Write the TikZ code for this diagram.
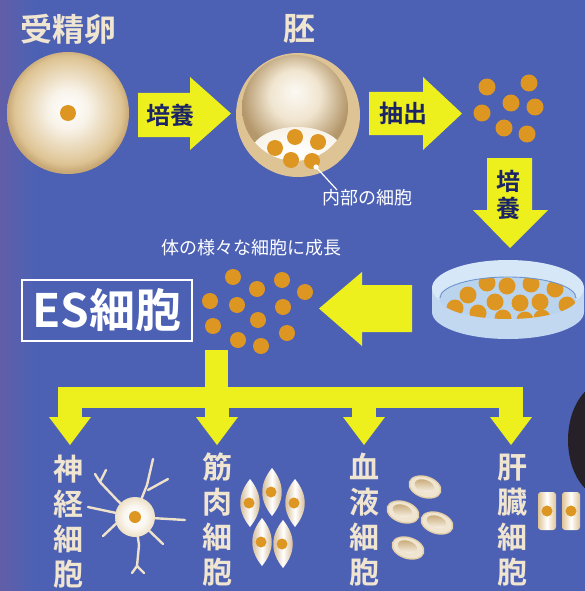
\documentclass[tikz,border=0pt]{standalone}
\usepackage{fontspec}
\setmainfont{Noto Sans CJK JP}[BoldFont={Noto Sans CJK JP Bold}]
\usetikzlibrary{positioning}

\definecolor{bgblue}{RGB}{76,97,180}
\definecolor{bgedge}{RGB}{98,94,168}
\definecolor{arrowyellow}{RGB}{238,240,30}
\definecolor{navytext}{RGB}{26,36,102}
\definecolor{nucleus}{RGB}{222,150,34}
\definecolor{cream}{RGB}{240,229,208}
\definecolor{tan}{RGB}{222,196,148}
\definecolor{tandark}{RGB}{200,168,118}
\definecolor{dishblue}{RGB}{186,212,238}
\definecolor{dishrim}{RGB}{214,232,247}
\definecolor{dishline}{RGB}{110,150,205}
\definecolor{darkthing}{RGB}{38,33,40}

\pgfdeclarehorizontalshading{backdrop}{100bp}{color(0bp)=(bgedge); color(25bp)=(bgedge); color(28bp)=(bgblue); color(100bp)=(bgblue)}
\pgfdeclareradialshading{eggshade}{\pgfpoint{0bp}{2bp}}{color(0bp)=(white); color(8bp)=(white!80!tan); color(22bp)=(tan); color(25bp)=(tandark); color(50bp)=(tandark)}
\pgfdeclareradialshading{cavityshade}{\pgfpoint{0bp}{8bp}}{color(0bp)=(white!90!tan); color(12bp)=(white!55!tan); color(25bp)=(tandark!90!black); color(50bp)=(tandark!90!black)}
\pgfdeclareradialshading{somashade}{\pgfpoint{0bp}{0bp}}{color(0bp)=(white); color(14bp)=(white!70!cream); color(25bp)=(cream!85!tan); color(50bp)=(cream!85!tan)}

\tikzset{
  titletext/.style={font=\bfseries\fontsize{32}{32}\selectfont, text=cream, inner sep=0pt},
  tagtext/.style={font=\bfseries\fontsize{24}{27}\selectfont, text=navytext, inner sep=0pt, align=center},
  notetext/.style={font=\fontsize{18}{18}\selectfont, text=white, inner sep=0pt},
  celltext/.style={font=\bfseries\fontsize{30}{35}\selectfont, text=cream, inner sep=0pt, align=center},
  yarrow/.style={fill=arrowyellow},
  celldot/.style={fill=nucleus},
  spindle/.style={left color=tandark, right color=tandark, middle color=white},
  livercell/.style={left color=tan, right color=tan, middle color=white, rounded corners=3pt},
  dendrite/.style={draw=cream!90!tan, line width=2.4pt, line cap=round, line join=round},
}

\begin{document}
\begin{tikzpicture}[x=1pt,y=-1pt]
  \useasboundingbox (0,0) rectangle (585,591);
  \shade[shading=backdrop] (0,0) rectangle (585,591);

  % something dark at the right edge
  \fill[darkthing] (606,440) ellipse (38pt and 58pt);
  \clip (0,0) rectangle (585,591);

  %% top row: zygote -> embryo -> inner cells
  \node[titletext] (zygote) at (68,29) {受精卵};
  \shade[shading=eggshade] (68,113) circle (61pt);
  \fill[celldot] (68,113) circle (8pt);

  \fill[yarrow] (138,93)--(190,93)--(190,77)--(231,113.5)--(190,150)--(190,137)--(138,137)--cycle;
  \node[tagtext] (culture) at (170,115) {培養};

  \node[titletext] (embryo) at (299,29) {胚};
  \fill[tan] (298,115) circle (62pt);
  \begin{scope}
    \clip (295,108) circle (53pt);
    \shade[shading=cavityshade] (295,108) circle (53pt);
    \shade[inner color=white, outer color=white!80!tan] (297,153) ellipse (46pt and 26pt);
  \end{scope}
  \foreach \px/\py in {275/148,295/137,318/142,291/160,312/161}
    \fill[celldot] (\px,\py) circle (8pt);
  \fill[white] (316,167) circle (2.6pt);
  \coordinate (leaderend) at (337,190);
  \draw[white, line width=1.2pt] (316,167) -- (leaderend);
  \node[notetext, below right=-1pt and -15pt of leaderend] (innercells) {内部の細胞};

  \fill[yarrow] (369,92)--(423,92)--(423,77)--(462,113.5)--(423,150)--(423,135)--(369,135)--cycle;
  \node[tagtext] (extract) at (403,113) {抽出};

  \foreach \px/\py in {487/87,529/83,511/103,535/107,482/113,504/128,527/134}
    \fill[celldot] (\px,\py) circle (8.5pt);

  \fill[yarrow] (487,158)--(532,158)--(532,210)--(548,210)--(510,248)--(473,210)--(487,210)--cycle;
  \node[tagtext] (culture2) at (508,195) {培\\養};

  %% petri dish
  \fill[dishblue!90!white] (432,288) -- (432,312) arc[start angle=180, end angle=360, x radius=76pt, y radius=27pt] -- (584,288) -- cycle;
  \fill[dishrim] (508,288) ellipse (76pt and 28pt);
  \begin{scope}
    \clip (508,298) ellipse (69pt and 21pt);
    \fill[dishblue] (508,298) ellipse (69pt and 21pt);
    \foreach \px/\py in {487/283,507/286,531/284,555/289,468/295,495/302,520/303,540/302,567/305,455/308,478/313,503/318,525/320,542/318}
      \fill[celldot] (\px,\py) circle (8.5pt);
  \end{scope}
  \draw[dishline, line width=0.9pt] (440,298) arc[start angle=180, end angle=360, x radius=68pt, y radius=-21pt];

  %% ES cells
  \fill[yarrow] (412,285)--(362,285)--(362,272)--(319,308.5)--(362,346)--(362,332)--(412,332)--cycle;
  \node[notetext] (grow) at (251,248) {体の様々な細胞に成長};
  \foreach \px/\py in {233/277,257/289,282/280,305/292,210/301,237/305,283/307,258/320,213/326,238/340,287/333,261/346}
    \fill[celldot] (\px,\py) circle (8pt);
  \node[draw=white, line width=1.4pt, minimum width=170pt, minimum height=61pt, inner sep=0pt,
        font=\bfseries\fontsize{46}{46}\selectfont, text=white] (es) at (107,310.5) {ES細胞};

  %% branching arrows
  \fill[yarrow] (205,350) rectangle (228,400);
  \fill[yarrow] (58,387) rectangle (523,408);
  \foreach \bx in {70,217,364,511}{
    \fill[yarrow] (\bx-12,400) rectangle (\bx+12,418);
    \fill[yarrow] (\bx-21,417) -- (\bx+21,417) -- (\bx,445) -- cycle;
  }

  %% nerve cell
  \node[celltext] (nerve) at (68,522) {神\\経\\細\\胞};
  \draw[dendrite] (135,517) -- (117,500) -- (100,482) -- (95,474);
  \draw[dendrite] (100,482) -- (106,470);
  \draw[dendrite] (137,510) -- (147,485) -- (153,459);
  \draw[dendrite] (148,490) -- (168,479);
  \draw[dendrite] (135,517) -- (185,520);
  \draw[dendrite] (135,517) -- (163,544);
  \draw[dendrite] (135,517) -- (139,545) -- (137,566) -- (132,573);
  \draw[dendrite] (137,566) -- (144,573);
  \draw[dendrite] (135,517) -- (88,507);
  \draw[dendrite] (120,520) -- (103,536);
  \shade[shading=somashade] (135,517) circle (20pt);
  \fill[celldot] (135,517) circle (6pt);

  %% muscle cells
  \node[celltext] (muscle) at (217,520) {筋\\肉\\細\\胞};
  \foreach \px/\py in {250/503,272/492,295/503,262/542,283/544}{
    \shade[spindle] (\px,\py-24) .. controls (\px+13,\py-8) and (\px+13,\py+8) .. (\px,\py+24)
                                 .. controls (\px-13,\py+8) and (\px-13,\py-8) .. cycle;
    \fill[celldot] (\px-1,\py) circle (5.5pt);
  }

  %% blood cells
  \node[celltext] (blood) at (364,520) {血\\液\\細\\胞};
  \foreach \px/\py in {425/487,403/512,437/523,408/548}{
    \fill[tan!80!white, rotate around={-18:(\px,\py)}] (\px,\py) ellipse (17pt and 11pt);
    \fill[cream, rotate around={-18:(\px,\py)}] (\px,\py) ellipse (15.5pt and 9.5pt);
    \shade[top color=tandark, bottom color=cream!60!white, rotate around={-18:(\px,\py)}] (\px-1,\py-1) ellipse (10pt and 6pt);
  }

  %% liver cells
  \node[celltext] (liver) at (512,520) {肝\\臓\\細\\胞};
  \foreach \px in {538,562,586}{
    \shade[livercell] (\px,492) rectangle (\px+18,530);
    \fill[celldot] (\px+9,511) circle (5.5pt);
  }
\end{tikzpicture}
\end{document}
